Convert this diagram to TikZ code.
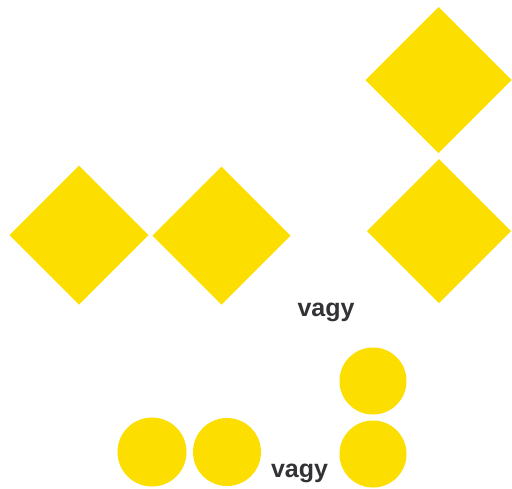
\documentclass[tikz,border=0pt]{standalone}
\usepackage{fontspec}
\setmainfont{Liberation Sans}
\definecolor{sunyellow}{RGB}{252,222,0}
\definecolor{textgray}{RGB}{50,50,55}
\begin{document}
\begin{tikzpicture}[x=1pt,y=-1pt,
  yellowfill/.style={fill=sunyellow,draw=none},
  word/.style={anchor=base,text=textgray,font=\fontsize{25}{30}\selectfont\bfseries,inner sep=0pt}]
\useasboundingbox (0,0) rectangle (512,488);
\fill[white] (0,0) rectangle (512,488);
% diamonds
\path[yellowfill] (79,165.5) -- (148.5,235) -- (79,304.5) -- (9.5,235) -- cycle;
\path[yellowfill] (221.5,166.5) -- (290.5,235.5) -- (221.5,304.5) -- (152.5,235.5) -- cycle;
\path[yellowfill] (438.5,7) -- (511.5,80) -- (438.5,153) -- (365.5,80) -- cycle;
\path[yellowfill] (439,159) -- (511,231) -- (439,303) -- (367,231) -- cycle;
% circles
\path[yellowfill] (152,452) circle[radius=34.5];
\path[yellowfill] (227,452) circle[radius=34];
\path[yellowfill] (373,381) circle[radius=33.5];
\path[yellowfill] (373,454) circle[radius=33.5];
% labels
\node[word] (v1) at (326,316) {vagy};
\node[word] (v2) at (299.5,477) {vagy};
\end{tikzpicture}
\end{document}
